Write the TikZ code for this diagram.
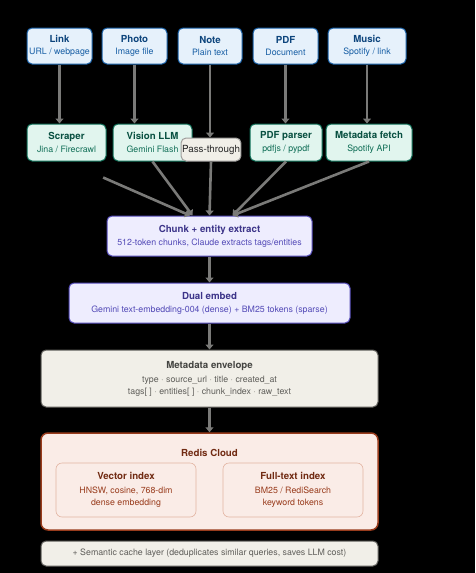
\documentclass[tikz,border=0pt]{standalone}
\usepackage{fontspec}
\setmainfont{TeX Gyre Heros}
\usepackage{tikz}
\usetikzlibrary{arrows.meta}

\definecolor{srcfill}{HTML}{E6F1FB}
\definecolor{srcline}{HTML}{185FA5}
\definecolor{srctext}{HTML}{0C447C}
\definecolor{prcfill}{HTML}{E1F5EE}
\definecolor{prcline}{HTML}{0F6E56}
\definecolor{prctext}{HTML}{085041}
\definecolor{purfill}{HTML}{EEEDFE}
\definecolor{purline}{HTML}{534AB7}
\definecolor{purtext}{HTML}{3C3489}
\definecolor{envfill}{HTML}{F1EFE8}
\definecolor{envline}{HTML}{5F5E5A}
\definecolor{envtext}{HTML}{444441}
\definecolor{redfill}{HTML}{FAECE7}
\definecolor{redline}{HTML}{993C1D}
\definecolor{redtext}{HTML}{712B13}
\definecolor{redsoft}{HTML}{E2B4A2}
\definecolor{flowgray}{HTML}{7A7A78}

\newcommand{\boxtitle}{\fontsize{9.7}{12}\selectfont\bfseries}
\newcommand{\boxsub}{\fontsize{8.8}{12}\selectfont}

\begin{document}
\begin{tikzpicture}[x=1pt, y=-1pt, line width=1pt,
  box/.style={draw, rounded corners=5pt, align=center, inner sep=0pt,
    font=\fontsize{9.7}{12}\selectfont},
  srcbox/.style={box, fill=srcfill, draw=srcline, text=srctext,
    minimum width=65pt, minimum height=36pt},
  prcbox/.style={box, fill=prcfill, draw=prcline, text=prctext,
    minimum width=79pt, minimum height=37pt},
  purbox/.style={box, fill=purfill, draw=purline, text=purtext, minimum height=40pt},
  envbox/.style={box, fill=envfill, draw=envline, text=envtext, minimum width=337pt},
  redbox/.style={box, fill=redfill, draw=redline, text=redtext},
  idxbox/.style={redbox, draw=redsoft, line width=0.6pt, rounded corners=6pt,
    minimum width=140pt, minimum height=54pt},
  flow/.style={draw=flowgray, line width=2.6pt, -{Triangle[length=5pt, width=8pt]}}
]

% background
\fill[black] (0, 0) rectangle (475, 573);

% draw input sources
\node[srcbox] (link) at (59.5, 46) {{\boxtitle Link}\\{\boxsub\color{srcline} URL / webpage}};
\node[srcbox] (photo) at (134.5, 46) {{\boxtitle Photo}\\{\boxsub\color{srcline} Image file}};
\node[srcbox, minimum width=64pt] (note) at (210, 46) {{\boxtitle Note}\\{\boxsub\color{srcline} Plain text}};
\node[srcbox] (pdf) at (285.5, 46) {{\boxtitle PDF}\\{\boxsub\color{srcline} Document}};
\node[srcbox, minimum width=78pt] (music) at (367, 46) {{\boxtitle Music}\\{\boxsub\color{srcline} Spotify / link}};

% draw extractors
\node[prcbox] (scraper) at (66.5, 142.5) {{\boxtitle Scraper}\\[1pt]{\boxsub\color{prcline} Jina / Firecrawl}};
\node[prcbox] (vision) at (152.5, 142.5) {{\boxtitle Vision LLM}\\[1pt]{\boxsub\color{prcline} Gemini Flash}};
\node[box, fill=envfill, draw=envline!60, text=black!85, inner xsep=1pt,
  minimum height=23pt, font=\fontsize{9.8}{12}\selectfont] (pass) at (211, 149.5) {Pass-through};
\node[prcbox, minimum width=72pt] (pdfparser) at (286, 142.5) {{\boxtitle PDF parser}\\[1pt]{\boxsub\color{prcline} pdfjs / pypdf}};
\node[prcbox, minimum width=86pt] (metafetch) at (369, 142.5) {{\boxtitle Metadata fetch}\\[1pt]{\boxsub\color{prcline} Spotify API}};

% draw processing chain
\node[purbox, minimum width=205pt] (chunk) at (209.5, 236) {{\boxtitle Chunk + entity extract}\\[1pt]{\boxsub\color{purline} 512-token chunks, Claude extracts tags/entities}};
\node[purbox, minimum width=281pt] (dual) at (209.5, 303) {{\boxtitle Dual embed}\\[1pt]{\boxsub\color{purline} Gemini text-embedding-004 (dense) + BM25 tokens (sparse)}};
\node[envbox, minimum height=57pt] (envelope) at (209.5, 378.5) {{\boxtitle Metadata envelope}\\[2pt]{\boxsub\color{envline} type · source\_url · title · created\_at}\\{\boxsub\color{envline} tags[ ] · entities[ ] · chunk\_index · raw\_text}};

% draw redis store
\node[redbox, line width=1.5pt, rounded corners=7pt, minimum width=337pt, minimum height=97pt] (redis) at (209.5, 481.5) {};
\node[text=redtext, font=\boxtitle] (redistitle) at (209.5, 453) {Redis Cloud};
\node[idxbox] (vector) at (126, 490) {{\boxtitle Vector index}\\[2pt]{\boxsub\color{redline} HNSW, cosine, 768-dim}\\{\boxsub\color{redline} dense embedding}};
\node[idxbox] (fulltext) at (293, 490) {{\boxtitle Full-text index}\\[2pt]{\boxsub\color{redline} BM25 / RediSearch}\\{\boxsub\color{redline} keyword tokens}};

% draw cache layer
\node[envbox, minimum height=25pt, text=envline, font=\boxsub] (cache) at (209.5, 553.5) {+ Semantic cache layer (deduplicates similar queries, saves LLM cost)};

% draw arrows
\draw[flow] (link.south) -- (link.south |- scraper.north);
\draw[flow] (photo.south) -- (photo.south |- vision.north);
\draw[flow] (note.south) -- (note.south |- pass.north);
\draw[flow] (pdf.south) -- (pdf.south |- pdfparser.north);
\draw[flow] (music.south) -- (music.south |- metafetch.north);

\draw[flow, shorten <=40pt] (scraper.south) -- ([xshift=-19.5pt]chunk.north);
\draw[flow] (vision.south) -- ([xshift=-17pt]chunk.north);
\draw[flow] (pass.south) -- (chunk.north);
\draw[flow] (pdfparser.south) -- ([xshift=23pt]chunk.north);
\draw[flow] (metafetch.south) -- ([xshift=23pt]chunk.north);

\draw[flow] (chunk.south) -- (dual.north);
\draw[flow] (dual.south) -- (envelope.north);
\draw[flow] (envelope.south) -- (redis.north);

\end{tikzpicture}
\end{document}
